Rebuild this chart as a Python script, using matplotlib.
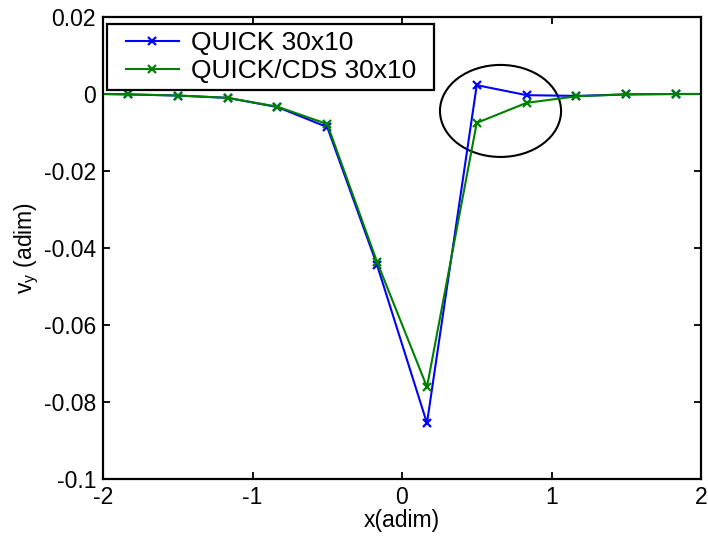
"""
Vertical velocity v_y along x, QUICK vs QUICK/CDS on a 30x10 grid.
"""

import matplotlib.pyplot as plt
from matplotlib.patches import Ellipse
from matplotlib.lines import Line2D
from matplotlib.legend_handler import HandlerLine2D

plt.rcParams['font.family'] = ['Liberation Sans', 'DejaVu Sans']
plt.rcParams['axes.unicode_minus'] = False

# Cell centres (boundary points at -2 and 2 carry no marker)
x = [-2.0, -1.833, -1.5, -1.167, -0.833, -0.5, -0.167, 0.167, 0.5, 0.833, 1.167, 1.5, 1.833, 2.0]
vy_quick = [0.0, -0.0001, -0.0004, -0.0010, -0.0034, -0.0086, -0.0444, -0.0855,
            0.0023, -0.0003, -0.0005, -0.0001, 0.0, 0.0]
vy_quick_cds = [0.0, -0.0001, -0.0004, -0.0010, -0.0033, -0.0078, -0.0436, -0.0761,
                -0.0075, -0.0023, -0.0006, -0.0001, 0.0, 0.0]

labels = ['QUICK 30x10', 'QUICK/CDS 30x10']
yticks = [-0.1, -0.08, -0.06, -0.04, -0.02, 0, 0.02]
ytick_labels = ['-0.1', '-0.08', '-0.06', '-0.04', '-0.02', '0', '0.02']
xticks = [-2, -1, 0, 1, 2]

FS = 16.5
LEG_FS = 19

fig = plt.figure(figsize=(7.08, 5.45), dpi=100)
fig.subplots_adjust(left=103 / 708, right=701 / 708, top=1 - 17 / 545, bottom=1 - 479 / 545)
ax = fig.add_subplot(111)

kw = dict(marker='x', markersize=6, markeredgewidth=1.6, linewidth=1.5, markevery=slice(1, -1))
ax.plot(x, vy_quick, color='#0000ff', label=labels[0], **kw)
ax.plot(x, vy_quick_cds, color='#008000', label=labels[1], **kw)

# highlight the region just downstream of the minimum
ax.add_patch(Ellipse((0.659, -0.0044), 0.81, 0.0239, fill=False, edgecolor='black', linewidth=1.5))

ax.set_xlim(-2, 2)
ax.set_ylim(-0.1, 0.02)
ax.set_xticks(xticks)
ax.set_xticklabels([str(t) for t in xticks])
ax.set_yticks(yticks)
ax.set_yticklabels(ytick_labels)
ax.tick_params(direction='in', top=True, right=True, length=5, width=1.3,
               labelsize=FS, pad=5)
for sp in ax.spines.values():
    sp.set_linewidth(1.6)

ax.set_xlabel('x(adim)', fontsize=FS, labelpad=0)
ax.set_ylabel(r'v$_{\mathregular{y}}$ (adim)', fontsize=FS, labelpad=2)

# MATLAB-like legend: handle inset from the frame, frame wider than the text
leg = ax.legend(loc='upper left', bbox_to_anchor=(0.0067, 0.5, 0.547, 0.485), mode='expand',
                borderaxespad=0, fontsize=LEG_FS, frameon=True, fancybox=False,
                edgecolor='black', handlelength=2.45, handletextpad=0.45, borderpad=0.27,
                labelspacing=0.15, handler_map={Line2D: HandlerLine2D(xpad=0.45)})
leg.get_frame().set_linewidth(1.6)
leg.get_frame().set_alpha(1)

plt.savefig('out.png', dpi=100)
